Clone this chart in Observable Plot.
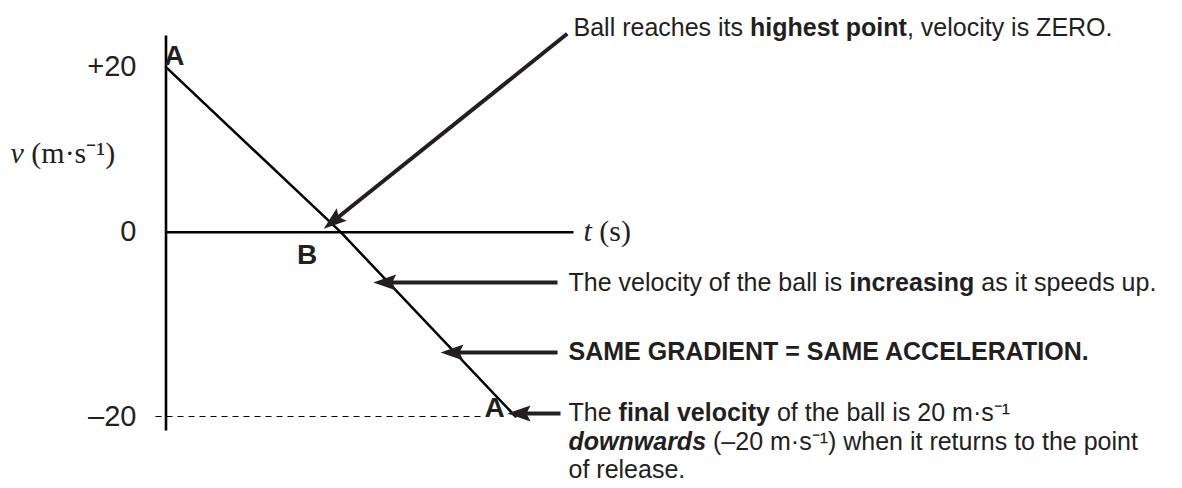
<!DOCTYPE html>
<html><head><meta charset="utf-8">
<script src="https://cdn.jsdelivr.net/npm/d3@7"></script>
<script src="https://cdn.jsdelivr.net/npm/@observablehq/plot@0.6"></script>
<style>html,body{margin:0;padding:0;background:#fff;} #chart svg{display:block;overflow:visible}</style>
</head><body><div id="chart"></div>
<script>
// ---- data (time in s, velocity in m/s) ----
const time = [0, 2, 4];
const velocity = [20, 0, -20];
const yTicks = [20, 0, -20];
const yTickLabels = ["+20", "0", "\u201320"];
const tickLabelT = -0.338;
const pointLabels = ["A", "B", "A"];
const pointLabelT = [0.097, 1.616, 3.76];
const pointLabelV = [21.3, -2.53, -19.08];
const notes = [
  "Ball reaches its **highest point**, velocity is ZERO.",
  "The velocity of the ball is **increasing** as it speeds up.",
  "**SAME GRADIENT = SAME ACCELERATION.**",
  "The **final velocity** of the ball is 20 m\u00b7s\u207b\u00b9",
  "***downwards*** (\u201320 m\u00b7s\u207b\u00b9) when it returns to the point",
  "of release."
];
const noteT = [4.664, 4.607, 4.607, 4.607, 4.607, 4.607];
const noteV = [24.81, -5.46, -13.05, -19.67, -22.82, -25.86];
const arrowT1 = [4.592, 4.481, 4.481, 4.515];
const arrowV1 = [24.05, -5.46, -13.05, -19.67];
const arrowT2 = [1.877, 2.463, 3.233, 4.0];
const arrowV2 = [1.02, -5.46, -13.05, -19.67];
const axisTMax = 4.664;
const axisVMin = -21.52, axisVMax = 23.84;
const refLineT = [-0.12, 3.63];
const axisLabels = ["~v~ (m\u00b7s\u207b\u00b9)", "~t~ (s)"];
const axisLabelT = [-1.78, 4.777];
const axisLabelV = [9.54, 0.15];

const ns = "http://www.w3.org/2000/svg";
const ink = "#231f20";
const sans = "'Liberation Sans', Arial, Helvetica, sans-serif";
const serif = "'Liberation Serif', 'Times New Roman', serif";

function stealth() {
  const m = document.createElementNS(ns, "marker");
  m.setAttribute("viewBox", "-16 -9 26 18");
  m.setAttribute("markerWidth", "26");
  m.setAttribute("markerHeight", "18");
  m.setAttribute("refX", "0");
  m.setAttribute("refY", "0");
  m.setAttribute("markerUnits", "userSpaceOnUse");
  m.setAttribute("orient", "auto");
  const p = document.createElementNS(ns, "path");
  p.setAttribute("d", "M8,0L-15,-8L-11,0L-15,8Z");
  p.setAttribute("fill", ink);
  p.setAttribute("stroke", "none");
  m.appendChild(p);
  return m;
}

const lineRows = time.map((t, i) => ({t, v: velocity[i]}));
const tickRows = yTicks.map((v, i) => ({v, label: yTickLabels[i]}));
const pointRows = pointLabels.map((l, i) => ({l, t: pointLabelT[i], v: pointLabelV[i]}));
const noteRows = notes.map((s, i) => ({s, t: noteT[i], v: noteV[i]}));
const arrowRows = arrowT1.map((t1, i) => ({t1, v1: arrowV1[i], t2: arrowT2[i], v2: arrowV2[i]}));
const axisRows = [
  {t1: 0, v1: axisVMin, t2: 0, v2: axisVMax},
  {t1: 0, v1: 0, t2: axisTMax, v2: 0}
];
const refRows = [{t1: refLineT[0], t2: refLineT[1], v: -20}];
const labelRows = axisLabels.map((s, i) => ({s, t: axisLabelT[i], v: axisLabelV[i]}));

function build(marker) {
  return Plot.plot({
    width: 1182,
    height: 488,
    margin: 0,
    x: {type: "linear", domain: [0, 4], range: [165.5, 515], axis: null},
    y: {type: "linear", domain: [-20, 0, 20], range: [416, 231.7, 66.7], axis: null},
    style: {background: "#fff", overflow: "visible"},
    marks: [
      Plot.link(refRows, {x1: "t1", x2: "t2", y1: "v", y2: "v", stroke: "#000", strokeWidth: 1.2, strokeDasharray: "6,5"}),
      Plot.link(axisRows, {x1: "t1", y1: "v1", x2: "t2", y2: "v2", stroke: "#000", strokeWidth: 2.6}),
      Plot.line(lineRows, {x: "t", y: "v", stroke: "#000", strokeWidth: 2.5}),
      Plot.link(arrowRows, {x1: "t1", y1: "v1", x2: "t2", y2: "v2", stroke: ink, strokeWidth: 4, markerEnd: marker}),
      Plot.text(tickRows, {x: () => tickLabelT, y: "v", text: "label", textAnchor: "end", fontSize: 29, fontFamily: sans, fill: ink}),
      Plot.text(pointRows, {x: "t", y: "v", text: "l", textAnchor: "middle", fontSize: 28, fontWeight: "bold", fontFamily: sans, fill: ink}),
      Plot.text(noteRows, {x: "t", y: "v", text: "s", textAnchor: "start", fontSize: 25, fontFamily: sans, fill: ink}),
      Plot.text(labelRows, {x: "t", y: "v", text: "s", textAnchor: "start", fontSize: 30, fontFamily: serif, fill: ink})
    ]
  });
}

let chart;
try { chart = build(stealth); } catch (e) { chart = build("arrow"); }

function richify(svg) {
  svg.querySelectorAll("text").forEach(t => {
    const s = t.textContent;
    if (!/[*~]/.test(s)) return;
    const parts = s.split(/(\*\*\*[^*]+\*\*\*|\*\*[^*]+\*\*|~[^~]+~)/).filter(p => p);
    t.textContent = "";
    for (const p of parts) {
      const ts = document.createElementNS(ns, "tspan");
      let txt = p;
      if (p.startsWith("***")) { txt = p.slice(3, -3); ts.setAttribute("font-weight", "bold"); ts.setAttribute("font-style", "italic"); }
      else if (p.startsWith("**")) { txt = p.slice(2, -2); ts.setAttribute("font-weight", "bold"); }
      else if (p.startsWith("~")) { txt = p.slice(1, -1); ts.setAttribute("font-style", "italic"); }
      ts.textContent = txt;
      t.appendChild(ts);
    }
  });
}
richify(chart);
document.getElementById("chart").appendChild(chart);
</script></body></html>
